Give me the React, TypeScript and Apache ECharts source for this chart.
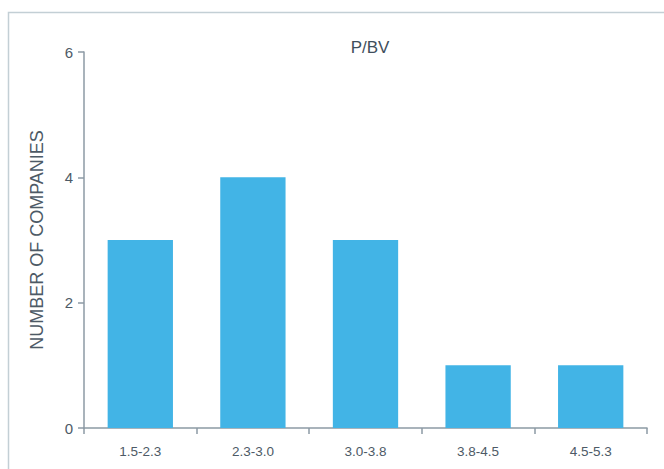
import React, { useEffect, useRef } from "react";
import * as echarts from "echarts";

const categories = ["1.5-2.3", "2.3-3.0", "3.0-3.8", "3.8-4.5", "4.5-5.3"];
const companyCounts = [3, 4, 3, 1, 1];
const yTicks = { min: 0, max: 6, interval: 2 };
const titleText = "P/BV";
const yAxisName = "NUMBER OF COMPANIES";

const FONT = "'Liberation Sans', Arial, Helvetica, sans-serif";
const AXIS_COLOR = "#8c9aa4";
const TEXT_COLOR = "#4d5a66";

export default function App() {
  const ref = useRef<HTMLDivElement>(null);
  useEffect(() => {
    if (!ref.current) return;
    const chart = echarts.init(ref.current, undefined, { renderer: "svg" });
    chart.setOption({
      animation: false,
      backgroundColor: "#ffffff",
      textStyle: { fontFamily: FONT },
      title: {
        text: titleText,
        left: 365,
        top: 34,
        textAlign: "center",
        textStyle: { fontFamily: FONT, fontSize: 17, fontWeight: "normal", color: "#3f4f5c" },
      },
      graphic: [
        {
          type: "rect",
          shape: { x: 8.5, y: 12.5, width: 700, height: 520 },
          style: { fill: "none", stroke: "#c3cfd5", lineWidth: 1.5 },
          silent: true,
          z: -1,
        },
      ],
      grid: { left: 84, right: 17, top: 52, bottom: 41, containLabel: false },
      xAxis: {
        type: "category",
        data: categories,
        axisLine: { show: true, lineStyle: { color: AXIS_COLOR, width: 1.5 } },
        axisTick: { show: true, length: 6, alignWithLabel: false, lineStyle: { color: AXIS_COLOR, width: 1.5 } },
        axisLabel: { color: TEXT_COLOR, fontSize: 13.5, fontFamily: FONT, margin: 16 },
        splitLine: { show: false },
      },
      yAxis: {
        type: "value",
        min: yTicks.min,
        max: yTicks.max,
        interval: yTicks.interval,
        name: yAxisName,
        nameLocation: "middle",
        nameGap: 38,
        nameTextStyle: { color: TEXT_COLOR, fontSize: 18, fontFamily: FONT },
        axisLine: { show: true, lineStyle: { color: AXIS_COLOR, width: 1.5 } },
        axisTick: { show: true, length: 6, lineStyle: { color: AXIS_COLOR, width: 1.5 } },
        axisLabel: { color: TEXT_COLOR, fontSize: 15, fontFamily: FONT, margin: 11 },
        splitLine: { show: false },
      },
      series: [
        {
          type: "bar",
          data: companyCounts,
          barCategoryGap: "42%",
          itemStyle: { color: "#42b4e6" },
        },
      ],
    });
    return () => chart.dispose();
  }, []);
  return (
    <div
      ref={ref}
      style={{ position: "fixed", left: 0, top: 0, width: 664, height: 469 }}
    />
  );
}
